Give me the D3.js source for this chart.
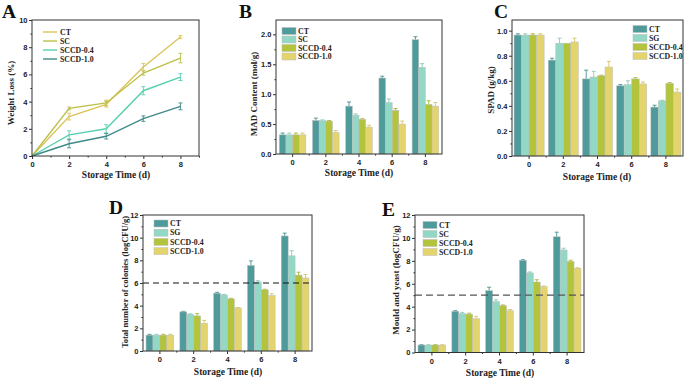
<!DOCTYPE html>
<html>
<head>
<meta charset="utf-8">
<script src="https://cdn.jsdelivr.net/npm/d3@7"></script>
<style>
html,body{margin:0;padding:0;background:#fff;}
svg{display:block;font-family:"Liberation Serif","Times New Roman",serif;font-weight:bold;}
</style>
</head>
<body>
<svg id="chart" width="685" height="378"></svg>
<script>
// ---------- DATA ----------
const days = ["0", "2", "4", "6", "8"];
const dayNums = [0, 2, 4, 6, 8];

// Panel A: weight loss (%)
const lossSeries = ["CT", "SC", "SCCD-0.4", "SCCD-1.0"];
const lossCT = [0, 2.9, 3.8, 6.55, 8.75];
const lossSC = [0, 3.5, 3.9, 6.1, 7.2];
const lossS04 = [0, 1.55, 2.0, 4.8, 5.8];
const lossS10 = [0, 0.9, 1.45, 2.75, 3.65];
const lossErrCT = [0, 0.25, 0.2, 0.25, 0.1];
const lossErrSC = [0, 0.1, 0.2, 0.15, 0.35];
const lossErrS04 = [0, 0.3, 0.3, 0.3, 0.25];
const lossErrS10 = [0, 0.3, 0.2, 0.2, 0.25];
const lossTicks = [0, 2, 4, 6, 8, 10];

// Panel B: MAD content
const madSeries = ["CT", "SC", "SCCD-0.4", "SCCD-1.0"];
const madCT = [0.32, 0.56, 0.80, 1.27, 1.91];
const madSC = [0.32, 0.56, 0.65, 0.86, 1.45];
const madS04 = [0.32, 0.55, 0.58, 0.73, 0.83];
const madS10 = [0.32, 0.36, 0.45, 0.50, 0.80];
const madErrCT = [0.03, 0.04, 0.07, 0.03, 0.05];
const madErrSC = [0.03, 0.01, 0.02, 0.06, 0.06];
const madErrS04 = [0.03, 0.01, 0.01, 0.03, 0.06];
const madErrS10 = [0.03, 0.03, 0.03, 0.05, 0.06];
const madTicks = ["0.0", "0.5", "1.0", "1.5", "2.0"];

// Panel C: SPAD
const spadSeries = ["CT", "SG", "SCCD-0.4", "SCCD-1.0"];
const spadCT = [0.965, 0.765, 0.615, 0.56, 0.39];
const spadSG = [0.965, 0.90, 0.63, 0.57, 0.44];
const spadS04 = [0.965, 0.90, 0.64, 0.615, 0.58];
const spadS10 = [0.965, 0.91, 0.71, 0.575, 0.51];
const spadErrCT = [0.01, 0.015, 0.07, 0.01, 0.015];
const spadErrSG = [0.01, 0.04, 0.045, 0.03, 0.005];
const spadErrS04 = [0.01, 0.0, 0.005, 0.01, 0.005];
const spadErrS10 = [0.01, 0.03, 0.045, 0.015, 0.025];
const spadTicks = ["0.0", "0.2", "0.4", "0.6", "0.8", "1.0"];

// Panel D: total number of colonies
const colSeries = ["CT", "SG", "SCCD-0.4", "SCCD-1.0"];
const colCT = [1.4, 3.45, 5.1, 7.55, 10.15];
const colSG = [1.4, 3.25, 4.95, 6.1, 8.4];
const colS04 = [1.4, 3.1, 4.6, 5.4, 6.7];
const colS10 = [1.4, 2.45, 3.8, 4.9, 6.45];
const colErrCT = [0.07, 0.05, 0.08, 0.4, 0.25];
const colErrSG = [0.07, 0.03, 0.05, 0.1, 0.45];
const colErrS04 = [0.07, 0.2, 0.05, 0.05, 0.25];
const colErrS10 = [0.07, 0.25, 0.03, 0.15, 0.3];
const colLimit = 6;

// Panel E: mould and yeast
const mySeries = ["CT", "SC", "SCCD-0.4", "SCCD-1.0"];
const myCT = [0.65, 3.6, 5.4, 8.05, 10.1];
const mySC = [0.65, 3.4, 4.45, 6.95, 8.95];
const myS04 = [0.65, 3.35, 4.1, 6.15, 7.95];
const myS10 = [0.65, 2.95, 3.65, 5.75, 7.35];
const myErrCT = [0.03, 0.05, 0.3, 0.05, 0.4];
const myErrSC = [0.03, 0.1, 0.15, 0.08, 0.15];
const myErrS04 = [0.03, 0.08, 0.05, 0.2, 0.1];
const myErrS10 = [0.03, 0.2, 0.1, 0.05, 0.05];
const myLimit = 5;
const countTicks = [0, 2, 4, 6, 8, 10, 12];

// ---------- STYLE ----------
const barColors = ["#4f9b9b", "#93d8c5", "#b3c33c", "#e4d46d"];
const lineColors = ["#dcc35a", "#bcc04a", "#58d0b0", "#3f8a88"];
const tickFont = 7.5;
const titleFont = 9.5;
const legFont = 7.8;

const svg = d3.select("#chart");

function frame(g, L, R, T, B) {
  g.append("rect").attr("x", L).attr("y", T).attr("width", R - L).attr("height", B - T)
    .attr("fill", "none").attr("stroke", "#333").attr("stroke-width", 1);
}

function yAxis(g, y, L, ticks, minorTicks, fmt) {
  const ax = d3.axisLeft(y).tickValues(ticks).tickSize(3).tickFormat(fmt);
  const a = g.append("g").attr("transform", `translate(${L},0)`).call(ax);
  a.select(".domain").remove();
  a.selectAll("line").attr("stroke", "#333");
  a.selectAll("text").attr("font-size", tickFont).attr("fill", "#222").attr("x", -4.5);
  const m = d3.axisLeft(y).tickValues(minorTicks).tickSize(1.6).tickFormat("");
  const b = g.append("g").attr("transform", `translate(${L},0)`).call(m);
  b.select(".domain").remove();
  b.selectAll("line").attr("stroke", "#333");
}

function panelLetter(txt, x, y) {
  svg.append("text").attr("x", x).attr("y", y).attr("font-size", 19.5).attr("fill", "#111").text(txt);
}

function yTitle(txt, x, yc, fs) {
  svg.append("text").attr("transform", `translate(${x},${yc}) rotate(-90)`)
    .attr("text-anchor", "middle").attr("font-size", fs || 9).attr("fill", "#222").text(txt);
}
function xTitle(txt, xc, y) {
  svg.append("text").attr("x", xc).attr("y", y).attr("text-anchor", "middle")
    .attr("font-size", titleFont).attr("fill", "#222").text(txt);
}

function barPanel(o) {
  const g = svg.append("g");
  const x = d3.scaleBand().domain(days).range([o.L, o.R]).padding(0);
  const inner = d3.scaleBand().domain(o.series).range([0, x.bandwidth() * o.frac]).padding(0);
  const y = d3.scaleLinear().domain([0, o.ymax]).range([o.B, o.T]);
  const off = (x.bandwidth() - x.bandwidth() * o.frac) / 2;

  o.series.forEach((s, si) => {
    const vals = o.values[si], errs = o.errors[si];
    days.forEach((d, i) => {
      const bx = x(d) + off + inner(s);
      const bw = inner.bandwidth();
      const v = vals[i], e = errs[i];
      const cx = bx + bw / 2;
      if (e > 0) {
        g.append("line").attr("x1", cx).attr("x2", cx).attr("y1", y(v)).attr("y2", y(v + e))
          .attr("stroke", d3.color(barColors[si]).darker(0.2)).attr("stroke-width", 0.9);
        g.append("line").attr("x1", cx - 2).attr("x2", cx + 2).attr("y1", y(v + e)).attr("y2", y(v + e))
          .attr("stroke", d3.color(barColors[si]).darker(0.2)).attr("stroke-width", 0.9);
      }
      g.append("rect").attr("x", bx).attr("y", y(v)).attr("width", bw).attr("height", o.B - y(v))
        .attr("fill", barColors[si]).attr("stroke", "#bdbdbd").attr("stroke-width", 0.5);
    });
  });

  if (o.limit !== undefined) {
    g.append("line").attr("x1", o.L).attr("x2", o.R).attr("y1", y(o.limit)).attr("y2", y(o.limit))
      .attr("stroke", o.limitColor).attr("stroke-width", o.limitWidth).attr("stroke-dasharray", o.limitDash);
  }

  frame(g, o.L, o.R, o.T, o.B);
  yAxis(g, y, o.L, o.yticks, o.yminor, o.yfmt);

  const xa = g.append("g").attr("transform", `translate(0,${o.B})`).call(d3.axisBottom(x).tickSize(3));
  xa.select(".domain").remove();
  xa.selectAll("line").attr("stroke", "#333");
  xa.selectAll("text").attr("font-size", tickFont).attr("fill", "#222").attr("y", 6);
  const mb = g.append("g");
  days.slice(1).forEach(d => {
    mb.append("line").attr("x1", x(d)).attr("x2", x(d)).attr("y1", o.B).attr("y2", o.B + 1.6).attr("stroke", "#333");
  });

  o.series.forEach((s, si) => {
    const ly = o.legY + si * o.legStep;
    g.append("rect").attr("x", o.legX).attr("y", ly - 3.5).attr("width", 14).attr("height", 7)
      .attr("fill", barColors[si]).attr("stroke", "#bdbdbd").attr("stroke-width", 0.5);
    g.append("text").attr("x", o.legX + 16).attr("y", ly + 2.7).attr("font-size", legFont).attr("fill", "#222").text(s);
  });
}

// ---------- PANEL A ----------
(function () {
  const L = 32, R = 199, T = 20, B = 156;
  const g = svg.append("g");
  const x = d3.scaleLinear().domain([0, 9]).range([L, R]);
  const y = d3.scaleLinear().domain([0, 10]).range([B, T]);
  const vals = [lossCT, lossSC, lossS04, lossS10];
  const errs = [lossErrCT, lossErrSC, lossErrS04, lossErrS10];
  const line = d3.line().x((d, i) => x(dayNums[i])).y(d => y(d));
  vals.forEach((v, si) => {
    g.append("path").attr("d", line(v)).attr("fill", "none").attr("stroke", lineColors[si]).attr("stroke-width", 1.4);
    v.forEach((d, i) => {
      const e = errs[si][i];
      if (e <= 0) return;
      const cx = x(dayNums[i]);
      g.append("line").attr("x1", cx).attr("x2", cx).attr("y1", y(d - e)).attr("y2", y(d + e)).attr("stroke", lineColors[si]).attr("stroke-width", 0.9);
      [d - e, d + e].forEach(t => g.append("line").attr("x1", cx - 2).attr("x2", cx + 2).attr("y1", y(t)).attr("y2", y(t)).attr("stroke", lineColors[si]).attr("stroke-width", 0.9));
    });
  });
  frame(g, L, R, T, B);
  yAxis(g, y, L, lossTicks, d3.range(1, 10, 2), d3.format("d"));
  const xa = g.append("g").attr("transform", `translate(0,${B})`).call(d3.axisBottom(x).tickValues(dayNums).tickSize(3));
  xa.select(".domain").remove();
  xa.selectAll("line").attr("stroke", "#333");
  xa.selectAll("text").attr("font-size", tickFont).attr("fill", "#222").attr("y", 6);
  const xm = g.append("g").attr("transform", `translate(0,${B})`).call(d3.axisBottom(x).tickValues([1, 3, 5, 7, 9]).tickSize(1.6).tickFormat(""));
  xm.select(".domain").remove();
  xm.selectAll("line").attr("stroke", "#333");
  lossSeries.forEach((s, si) => {
    const ly = 32 + si * 9;
    g.append("line").attr("x1", 43).attr("x2", 57).attr("y1", ly).attr("y2", ly).attr("stroke", lineColors[si]).attr("stroke-width", 1.4);
    g.append("text").attr("x", 60).attr("y", ly + 2.7).attr("font-size", legFont).attr("fill", "#222").text(s);
  });
  panelLetter("A", 2, 18);
  yTitle("Weight Loss (%)", 14, 93);
  xTitle("Storage Time (d)", 116, 178);
})();

// ---------- PANEL B ----------
barPanel({
  L: 276, R: 442, T: 20, B: 154, ymax: 2.24, frac: 0.8,
  series: madSeries, values: [madCT, madSC, madS04, madS10], errors: [madErrCT, madErrSC, madErrS04, madErrS10],
  yticks: madTicks.map(Number), yminor: [0.25, 0.75, 1.25, 1.75], yfmt: d3.format(".1f"),
  legX: 282, legY: 31, legStep: 8.5
});
panelLetter("B", 239, 18);
yTitle("MAD Content (mol/g)", 257, 94);
xTitle("Storage Time (d)", 359, 176);

// ---------- PANEL C ----------
barPanel({
  L: 512, R: 683, T: 20, B: 156, ymax: 1.085, frac: 0.88,
  series: spadSeries, values: [spadCT, spadSG, spadS04, spadS10], errors: [spadErrCT, spadErrSG, spadErrS04, spadErrS10],
  yticks: spadTicks.map(Number), yminor: [0.1, 0.3, 0.5, 0.7, 0.9], yfmt: d3.format(".1f"),
  legX: 633, legY: 29, legStep: 9
});
panelLetter("C", 494, 18);
yTitle("SPAD (g/kg)", 494, 90);
xTitle("Storage Time (d)", 597, 180);

// ---------- PANEL D ----------
barPanel({
  L: 143, R: 312, T: 215, B: 351, ymax: 12, frac: 0.82,
  series: colSeries, values: [colCT, colSG, colS04, colS10], errors: [colErrCT, colErrSG, colErrS04, colErrS10],
  yticks: countTicks, yminor: [1, 3, 5, 7, 9, 11], yfmt: d3.format("d"),
  legX: 154, legY: 223.5, legStep: 9.2,
  limit: colLimit, limitColor: "#111", limitWidth: 1, limitDash: "6,4"
});
panelLetter("D", 109, 214);
yTitle("Total number of colonies (logCFU/g)", 128, 282, 8.5);
xTitle("Storage Time (d)", 228, 375);

// ---------- PANEL E ----------
barPanel({
  L: 415, R: 584, T: 215, B: 352.5, ymax: 12, frac: 0.82,
  series: mySeries, values: [myCT, mySC, myS04, myS10], errors: [myErrCT, myErrSC, myErrS04, myErrS10],
  yticks: countTicks, yminor: [1, 3, 5, 7, 9, 11], yfmt: d3.format("d"),
  legX: 423, legY: 225, legStep: 9,
  limit: myLimit, limitColor: "#555", limitWidth: 1.3, limitDash: "7,4"
});
panelLetter("E", 382, 216);
yTitle("Mould and yeast (logCFU/g)", 399, 280);
xTitle("Storage Time (d)", 500, 376);
</script>
</body>
</html>
